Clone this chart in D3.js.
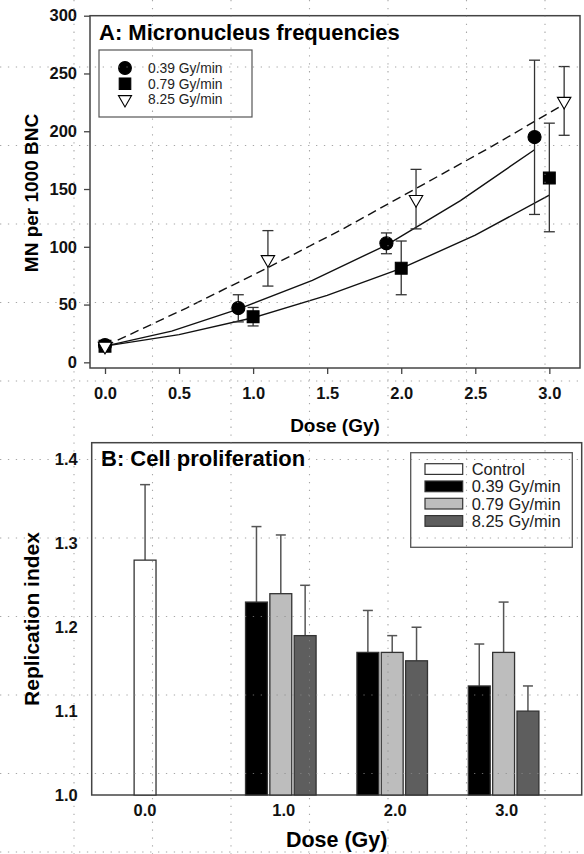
<!DOCTYPE html>
<html>
<head>
<meta charset="utf-8">
<script src="https://cdn.jsdelivr.net/npm/d3@7"></script>
<style>
  html, body { margin: 0; padding: 0; background: #fff; }
  svg { display: block; font-family: 'Liberation Sans', Arial, sans-serif; }
</style>
</head>
<body>
<div id="chart"></div>
<script>
(function () {
  'use strict';
  /* global d3 */

  // ---- panel A data: MN per 1000 BNC ----
  var doseA039 = [0, 0.9, 1.9, 2.9],
      mnA039 = [15, 47, 103, 195],
      loA039 = [12, 35, 94, 128],
      hiA039 = [18, 58.5, 112, 261.5];

  var doseA079 = [0, 1.0, 2.0, 3.0],
      mnA079 = [14, 39.5, 81.5, 159.5],
      loA079 = [11, 31.5, 58.5, 113],
      hiA079 = [17, 47.5, 105, 207];

  var doseA825 = [0, 1.1, 2.1, 3.1],
      mnA825 = [14, 89, 141, 226],
      loA825 = [11, 66, 115.5, 196.5],
      hiA825 = [17, 114, 167, 256];

  // fitted curves
  var fitDose039 = [0, 0.45, 0.9, 1.4, 1.9, 2.4, 2.9],
      fit039 = [14, 27, 46, 71, 101.5, 140, 184];
  var fitDose079 = [0, 0.5, 1.0, 1.5, 2.0, 2.5, 3.0],
      fit079 = [14, 24, 38.6, 58, 81.3, 110, 144.8];
  var fitDose825 = [0, 0.55, 1.1, 1.6, 2.1, 2.6, 3.1],
      fit825 = [14, 47, 82, 115, 150.5, 186, 223.5];

  var ticksXA = [0, 0.5, 1.0, 1.5, 2.0, 2.5, 3.0],
      ticksYA = [0, 50, 100, 150, 200, 250, 300];

  // ---- panel B data: replication index ----
  var dosesB = [0, 1, 2, 3],
      doseLabelsB = ['0.0', '1.0', '2.0', '3.0'];
  var controlB = 1.28, controlTopB = 1.37;
  var riB039 = [1.23, 1.17, 1.13], riTopB039 = [1.32, 1.22, 1.18];
  var riB079 = [1.24, 1.17, 1.17], riTopB079 = [1.31, 1.19, 1.23];
  var riB825 = [1.19, 1.16, 1.10], riTopB825 = [1.25, 1.20, 1.13];
  var ticksYB = [1.0, 1.1, 1.2, 1.3, 1.4];

  var rateNames = ['0.39 Gy/min', '0.79 Gy/min', '8.25 Gy/min'];

  var W = 584, H = 854;
  var axisCol = '#444';

  var svg = d3.select('#chart').append('svg')
    .attr('width', W)
    .attr('height', H);

  // ================= panel A =================
  var a = {l: 90, r: 580, t: 15.7, b: 368};
  var xA = d3.scaleLinear().domain([-0.1013, 3.207]).range([a.l, a.r]);
  var yA = d3.scaleLinear().domain([-4.9, 300]).range([a.b, a.t]);

  var gA = svg.append('g');

  gA.append('rect')
    .attr('x', a.l).attr('y', a.t)
    .attr('width', a.r - a.l).attr('height', a.b - a.t)
    .attr('fill', 'none').attr('stroke', axisCol).attr('stroke-width', 1.5);

  var axYA = gA.append('g')
    .attr('transform', 'translate(' + a.l + ',0)')
    .call(d3.axisLeft(yA).tickValues(ticksYA).tickSize(6).tickPadding(5).tickFormat(d3.format('d')));
  var axXA = gA.append('g')
    .attr('transform', 'translate(0,' + a.b + ')')
    .call(d3.axisBottom(xA).tickValues(ticksXA).tickSize(6).tickPadding(13).tickFormat(d3.format('.1f')));

  [axYA, axXA].forEach(function (ax) {
    ax.select('.domain').remove();
    ax.selectAll('line').attr('stroke', axisCol).attr('stroke-width', 1.3);
    ax.selectAll('text')
      .attr('fill', '#111')
      .style('font-size', '16.5px')
      .style('font-weight', 'bold')
      .style('font-family', "'Liberation Sans', Arial, sans-serif");
  });
  axYA.selectAll('text').attr('x', -13);

  gA.append('text')
    .attr('transform', 'translate(38,193) rotate(-90)')
    .attr('text-anchor', 'middle')
    .style('font-size', '19px').style('font-weight', 'bold')
    .text('MN per 1000 BNC');

  gA.append('text')
    .attr('x', (a.l + a.r) / 2).attr('y', 431.5)
    .attr('text-anchor', 'middle')
    .style('font-size', '19px').style('font-weight', 'bold')
    .text('Dose (Gy)');

  gA.append('text')
    .attr('x', 99).attr('y', 40)
    .style('font-size', '22px').style('font-weight', 'bold')
    .text('A: Micronucleus frequencies');

  var line = d3.line()
    .x(function (d) { return xA(d[0]); })
    .y(function (d) { return yA(d[1]); });

  var fits = [
    {pts: d3.zip(fitDose039, fit039), dash: null},
    {pts: d3.zip(fitDose079, fit079), dash: null},
    {pts: d3.zip(fitDose825, fit825), dash: '9,5'}
  ];
  gA.selectAll('path.fit')
    .data(fits)
    .enter()
    .append('path')
    .attr('class', 'fit')
    .attr('d', function (d) { return line(d.pts); })
    .attr('fill', 'none')
    .attr('stroke', '#111')
    .attr('stroke-width', 1.4)
    .attr('stroke-dasharray', function (d) { return d.dash; });

  var seriesA = [
    {dose: doseA039, mn: mnA039, lo: loA039, hi: hiA039, sym: d3.symbolCircle, size: 135, fill: '#000', rot: 0},
    {dose: doseA079, mn: mnA079, lo: loA079, hi: hiA079, sym: d3.symbolSquare, size: 140, fill: '#000', rot: 0},
    {dose: doseA825, mn: mnA825, lo: loA825, hi: hiA825, sym: d3.symbolTriangle, size: 78, fill: '#fff', rot: 180}
  ];

  seriesA.forEach(function (s) {
    var pts = s.dose.map(function (d, i) {
      return {x: d, y: s.mn[i], lo: s.lo[i], hi: s.hi[i]};
    });
    var eb = gA.append('g');
    eb.selectAll('line.v').data(pts).enter().append('line')
      .attr('x1', function (d) { return xA(d.x); })
      .attr('x2', function (d) { return xA(d.x); })
      .attr('y1', function (d) { return yA(d.lo); })
      .attr('y2', function (d) { return yA(d.hi); })
      .attr('stroke', '#333').attr('stroke-width', 1.3);
    ['lo', 'hi'].forEach(function (k) {
      eb.selectAll('line.' + k).data(pts).enter().append('line')
        .attr('x1', function (d) { return xA(d.x) - 5.5; })
        .attr('x2', function (d) { return xA(d.x) + 5.5; })
        .attr('y1', function (d) { return yA(d[k]); })
        .attr('y2', function (d) { return yA(d[k]); })
        .attr('stroke', '#333').attr('stroke-width', 1.3);
    });
  });

  seriesA.forEach(function (s) {
    gA.append('g').selectAll('path')
      .data(s.dose.map(function (d, i) { return [d, s.mn[i]]; }))
      .enter()
      .append('path')
      .attr('d', d3.symbol().type(s.sym).size(s.size))
      .attr('transform', function (d) {
        return 'translate(' + xA(d[0]) + ',' + yA(d[1]) + ') rotate(' + s.rot + ')';
      })
      .attr('fill', s.fill)
      .attr('stroke', '#000')
      .attr('stroke-width', 1.1);
  });

  // legend A
  var legA = gA.append('g');
  legA.append('rect')
    .attr('x', 99).attr('y', 50).attr('width', 153).attr('height', 67)
    .attr('fill', '#fff').attr('stroke', '#555').attr('stroke-width', 1.2);
  seriesA.forEach(function (s, i) {
    var yy = 68 + i * 15.7;
    legA.append('path')
      .attr('d', d3.symbol().type(s.sym).size(s.size * 0.95))
      .attr('transform', 'translate(125,' + yy + ') rotate(' + s.rot + ')')
      .attr('fill', s.fill).attr('stroke', '#000').attr('stroke-width', 1.1);
    legA.append('text')
      .attr('x', 148).attr('y', yy + 5)
      .style('font-size', '13.8px')
      .attr('fill', '#222')
      .text(rateNames[i]);
  });

  // ================= panel B =================
  var b = {l: 91.7, r: 581.7, t: 442.7, b: 795};
  var xB = d3.scaleLinear().domain([-0.6975, 3.701]).range([b.l, b.r]);
  var yB = d3.scaleLinear().domain([1.0, 1.42]).range([b.b, b.t]);
  var slot = d3.scaleBand().domain(rateNames).range([-36.5, 36.5]).paddingInner(0.1).paddingOuter(0.05);

  var gB = svg.append('g');

  gB.append('rect')
    .attr('x', b.l).attr('y', b.t)
    .attr('width', b.r - b.l).attr('height', b.b - b.t)
    .attr('fill', 'none').attr('stroke', axisCol).attr('stroke-width', 1.5);

  var axYB = gB.append('g')
    .attr('transform', 'translate(' + b.l + ',0)')
    .call(d3.axisLeft(yB).tickValues(ticksYB).tickSize(0).tickPadding(14).tickFormat(d3.format('.1f')));
  axYB.select('.domain').remove();
  axYB.selectAll('text')
    .attr('fill', '#111')
    .style('font-size', '16.5px').style('font-weight', 'bold')
    .style('font-family', "'Liberation Sans', Arial, sans-serif");

  var barsB = [
    {dose: 0, name: 'Control', v: controlB, top: controlTopB, fill: '#fff', slot: rateNames[0]}
  ];
  var colsB = ['#000', '#bdbdbd', '#5e5e5e'];
  [riB039, riB079, riB825].forEach(function (arr, si) {
    var tops = [riTopB039, riTopB079, riTopB825][si];
    arr.forEach(function (v, i) {
      barsB.push({dose: dosesB[i + 1], name: rateNames[si], v: v, top: tops[i], fill: colsB[si], slot: rateNames[si]});
    });
  });

  function barX(d) { return xB(d.dose) + slot(d.slot); }

  var eB = gB.append('g');
  eB.selectAll('line.v').data(barsB).enter().append('line')
    .attr('x1', function (d) { return barX(d) + slot.bandwidth() / 2; })
    .attr('x2', function (d) { return barX(d) + slot.bandwidth() / 2; })
    .attr('y1', function (d) { return yB(d.v); })
    .attr('y2', function (d) { return yB(d.top); })
    .attr('stroke', '#555').attr('stroke-width', 1.5);
  eB.selectAll('line.c').data(barsB).enter().append('line')
    .attr('x1', function (d) { return barX(d) + slot.bandwidth() / 2 - 5; })
    .attr('x2', function (d) { return barX(d) + slot.bandwidth() / 2 + 5; })
    .attr('y1', function (d) { return yB(d.top); })
    .attr('y2', function (d) { return yB(d.top); })
    .attr('stroke', '#555').attr('stroke-width', 1.5);

  gB.selectAll('rect.bar')
    .data(barsB)
    .enter()
    .append('rect')
    .attr('class', 'bar')
    .attr('x', barX)
    .attr('y', function (d) { return yB(d.v); })
    .attr('width', slot.bandwidth())
    .attr('height', function (d) { return yB(1.0) - yB(d.v); })
    .attr('fill', function (d) { return d.fill; })
    .attr('stroke', '#333')
    .attr('stroke-width', 1.3);

  // x tick labels: 0.0 sits under the control bar
  gB.selectAll('text.xt')
    .data(dosesB)
    .enter()
    .append('text')
    .attr('class', 'xt')
    .attr('x', function (d) {
      return d === 0 ? xB(d) + slot(rateNames[0]) + slot.bandwidth() / 2 : xB(d) + 3;
    })
    .attr('y', 816)
    .attr('text-anchor', 'middle')
    .attr('fill', '#111')
    .style('font-size', '16.5px').style('font-weight', 'bold')
    .text(function (d, i) { return doseLabelsB[i]; });

  gB.append('text')
    .attr('transform', 'translate(39,619) rotate(-90)')
    .attr('text-anchor', 'middle')
    .style('font-size', '21px').style('font-weight', 'bold')
    .text('Replication index');

  gB.append('text')
    .attr('x', (b.l + b.r) / 2).attr('y', 846.5)
    .attr('text-anchor', 'middle')
    .style('font-size', '21.5px').style('font-weight', 'bold')
    .text('Dose (Gy)');

  gB.append('text')
    .attr('x', 101).attr('y', 466)
    .style('font-size', '22px').style('font-weight', 'bold')
    .text('B: Cell proliferation');

  // legend B
  var legB = gB.append('g');
  legB.append('rect')
    .attr('x', 410.7).attr('y', 452.7).attr('width', 161.6).attr('height', 94.6)
    .attr('fill', '#fff').attr('stroke', '#555').attr('stroke-width', 1.3);
  var legItems = [{n: 'Control', c: '#fff'}].concat(rateNames.map(function (n, i) {
    return {n: n, c: colsB[i]};
  }));
  legItems.forEach(function (it, i) {
    var yy = 469 + i * 17.3;
    legB.append('rect')
      .attr('x', 425).attr('y', yy - 5.3).attr('width', 37.7).attr('height', 10.7)
      .attr('fill', it.c).attr('stroke', '#333').attr('stroke-width', 1.2);
    legB.append('text')
      .attr('x', 471.7).attr('y', yy + 6)
      .style('font-size', '16.5px')
      .attr('fill', '#222')
      .text(it.n);
  });

  // ---- dotted page grid lying over the whole figure ----
  var step = 78.5;
  var gx = d3.range(74, W, step),
      gy = d3.range(67, H, step);
  var ov = svg.append('g')
    .attr('stroke', '#8a8a8a')
    .attr('stroke-width', 1.1)
    .attr('stroke-dasharray', '1.3,6.6')
    .attr('opacity', 0.75);
  ov.selectAll('line.gv').data(gx).enter().append('line')
    .attr('x1', function (d) { return d; }).attr('x2', function (d) { return d; })
    .attr('y1', 0).attr('y2', H);
  ov.selectAll('line.gh').data(gy).enter().append('line')
    .attr('x1', 0).attr('x2', W)
    .attr('y1', function (d) { return d; }).attr('y2', function (d) { return d; });

}());
</script>
</body>
</html>
